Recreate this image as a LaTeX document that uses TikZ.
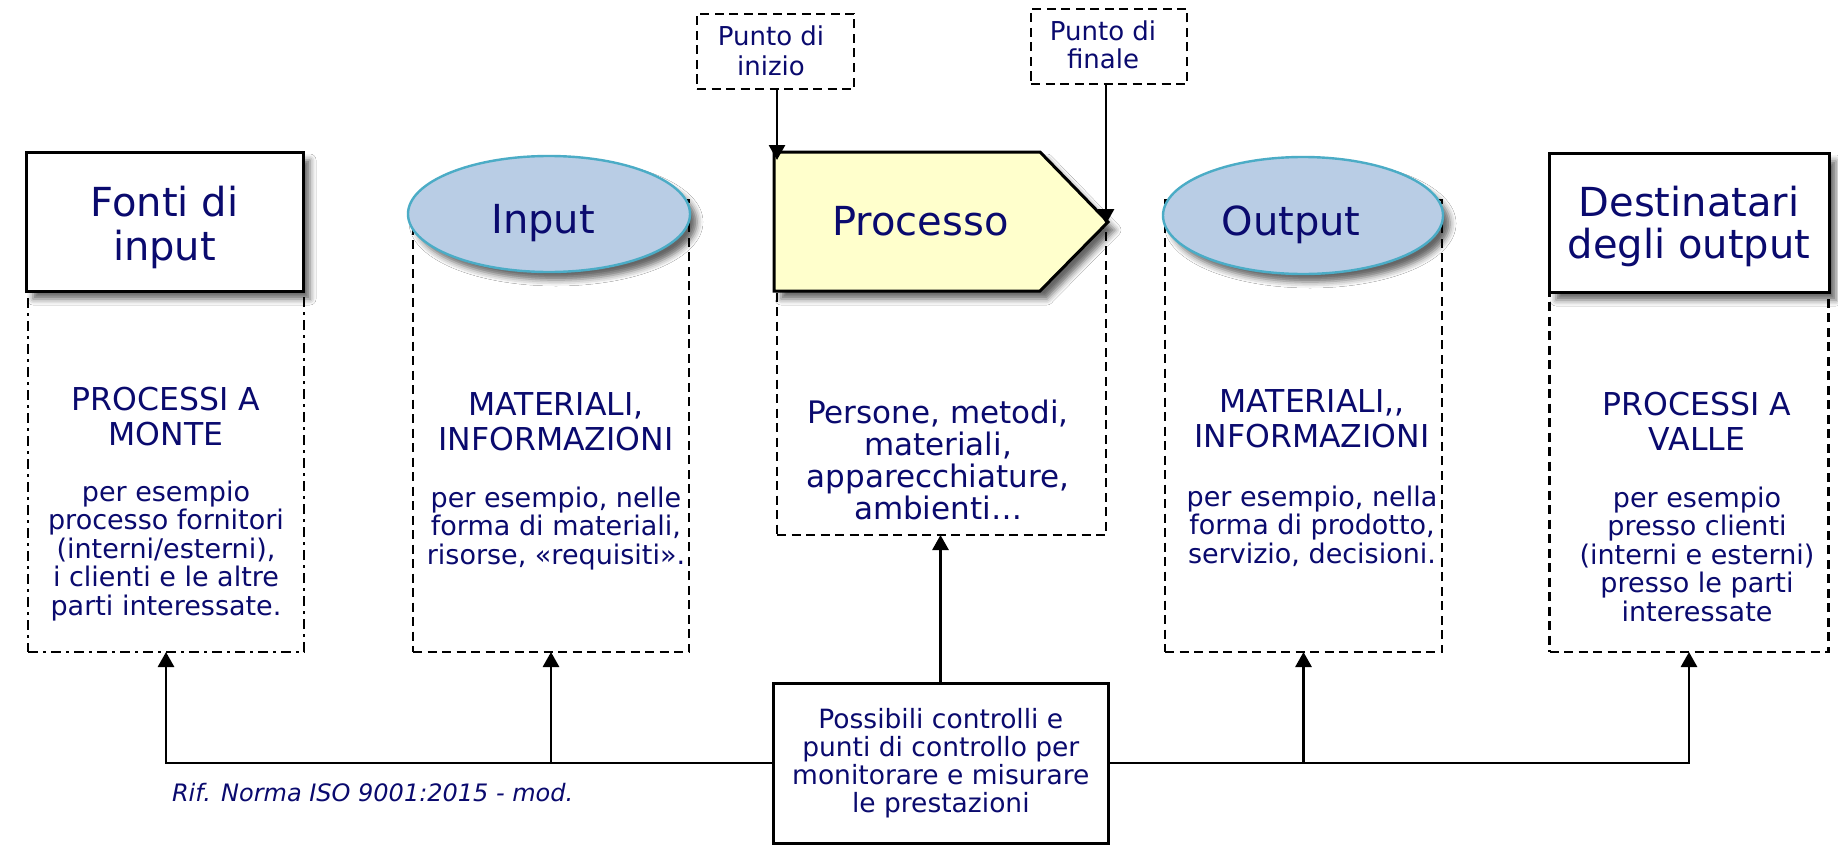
\documentclass[tikz,border=0pt]{standalone}
\usepackage{fontspec}
\setmainfont{DejaVu Sans}
\usetikzlibrary{arrows.meta,shapes.geometric,shadows.blur}
\definecolor{navy}{RGB}{10,10,110}
\definecolor{ellfill}{RGB}{185,205,229}
\definecolor{ellline}{RGB}{75,172,198}
\definecolor{procfill}{RGB}{255,255,204}
\begin{document}
\begin{tikzpicture}[x=1pt,y=-1pt,
  every node/.style={inner sep=0pt, outer sep=0pt},
  shd/.style={blur shadow={shadow xshift=7pt, shadow yshift=-8pt, shadow blur radius=6pt, shadow opacity=60}},
  headbox/.style={draw=black, fill=white, line width=3pt, shd},
  headell/.style={ellipse, draw=ellline, fill=ellfill, line width=2.4pt, shd},
  dbox/.style={draw=black, line width=2.6pt, dash pattern=on 9pt off 5.5pt},
  ddbox/.style={draw=black, line width=2.6pt, dash pattern=on 10pt off 5pt on 3pt off 5pt},
  fs/.style 2 args={font=\fontsize{#1pt}{#2pt}\selectfont},
  txt/.style={text=navy, align=center, anchor=north},
  lbl/.style={text=navy, anchor=base},
  arr/.style={draw=black, line width=2.8pt, -{Triangle[width=16pt,length=15pt]}},
]
\useasboundingbox (0,0) rectangle (1838,851);
\fill[white] (0,0) rectangle (1838,851);

% dashed column boxes
\node[ddbox, minimum width=276pt, minimum height=361pt] (fontiB) at (166,471.5) {};
\node[dbox, minimum width=276pt, minimum height=452pt] (inputB) at (551,426) {};
\node[dbox, minimum width=329pt, minimum height=307pt] (procB) at (941.5,381.5) {};
\node[dbox, minimum width=277pt, minimum height=452pt] (outputB) at (1303.5,426) {};
\node[dbox, minimum width=279pt, minimum height=360pt] (destB) at (1689,472) {};

% heads
\node[headbox, minimum width=277pt, minimum height=139pt] (fontiH) at (164.5,221.5) {};
\node[headell, minimum width=282pt, minimum height=116pt] (inputE) at (549,214) {};
\filldraw[draw=black, fill=procfill, line width=3pt, line join=miter, shd]
  (774,152) -- (1040,152) -- (1108,222) -- (1040,291) -- (774,291) -- cycle;
\coordinate (procTL) at (777,160);
\coordinate (procTip) at (1106,224);
\node[headell, minimum width=280pt, minimum height=117pt] (outputE) at (1303,215.5) {};
\node[headbox, minimum width=280pt, minimum height=139pt] (destH) at (1689,222.5) {};

% top small boxes
\node[dbox, minimum width=157pt, minimum height=75pt] (inizio) at (775.5,51.5) {};
\node[dbox, minimum width=156pt, minimum height=75pt] (finale) at (1109,46.5) {};

% control box
\node[draw=black, line width=3pt, fill=white, minimum width=335pt, minimum height=160pt] (ctrl) at (940.5,763) {};

% texts
\node[txt, fs={40}{44}] (fontiT) at (164.5,184) {\rule{0pt}{32pt}Fonti di\\input};
\node[txt, fs={31.5}{35}] (fontiS) at (166,384.8) {\rule{0pt}{25.2pt}PROCESSI A\\MONTE};
\node[txt, fs={27}{28.5}] (fontiD) at (166,479.4) {\rule{0pt}{21.6pt}per esempio\\processo fornitori\\(interni/esterni),\\i clienti e le altre\\parti interessate.};

\node[lbl, fs={40}{44}] (inputT) at (543,233) {Input};
\node[txt, fs={31.5}{35}] (inputS) at (556,389.8) {\rule{0pt}{25.2pt}MATERIALI,\\INFORMAZIONI};
\node[txt, fs={27}{28.5}] (inputD) at (556,485.4) {\rule{0pt}{21.6pt}per esempio, nelle\\forma di materiali,\\risorse, «requisiti».};

\node[lbl, fs={40}{44}] (procT) at (920.5,235) {Processo};
\node[txt, fs={31}{32}] (procD) at (938,398.2) {\rule{0pt}{24.8pt}Persone, metodi,\\materiali,\\apparecchiature,\\ambienti…};

\node[lbl, fs={40}{44}] (outputT) at (1291,235) {Output};
\node[txt, fs={31.5}{35}] (outputS) at (1312,386.8) {\rule{0pt}{25.2pt}MATERIALI,{},\\INFORMAZIONI};
\node[txt, fs={27}{28.5}] (outputD) at (1312,484.4) {\rule{0pt}{21.6pt}per esempio, nella\\forma di prodotto,\\servizio, decisioni.};

\node[txt, fs={40}{42}] (destT) at (1689,184) {\rule{0pt}{32pt}Destinatari\\degli output};
\node[txt, fs={31.5}{35}] (destS) at (1697,390.3) {\rule{0pt}{25.2pt}PROCESSI A\\VALLE};
\node[txt, fs={27}{28.5}] (destD) at (1697,485.4) {\rule{0pt}{21.6pt}per esempio\\presso clienti\\(interni e esterni)\\presso le parti\\interessate};

\node[txt, fs={26}{29}] (inizioT) at (771,25.2) {\rule{0pt}{20.8pt}Punto di\\inizio};
\node[txt, fs={26}{28}] (finaleT) at (1103,19.2) {\rule{0pt}{20.8pt}Punto di\\finale};

\node[txt, fs={26.5}{28.3}] (ctrlT) at (940.8,706.8) {\rule{0pt}{21.2pt}Possibili controlli e\\punti di controllo per\\monitorare e misurare\\le prestazioni};

\node[text=navy, anchor=base west, font=\fontsize{24pt}{28pt}\selectfont\itshape] (rif) at (172,801) {Rif. Norma ISO 9001:2015 - mod.};

% connectors
\draw[arr] (inizio.south -| procTL) -- (procTL);
\draw[arr] (finale.south -| procTip) -- (procTip);
\draw[arr] (ctrl.north) -- (ctrl.north |- procB.south);
\draw[arr] (ctrl.west) -| (fontiB.south);
\draw[arr] (inputB.south |- ctrl.west) -- (inputB.south);
\draw[arr] (ctrl.east) -| (destB.south);
\draw[arr] (outputB.south |- ctrl.east) -- (outputB.south);
\end{tikzpicture}
\end{document}
